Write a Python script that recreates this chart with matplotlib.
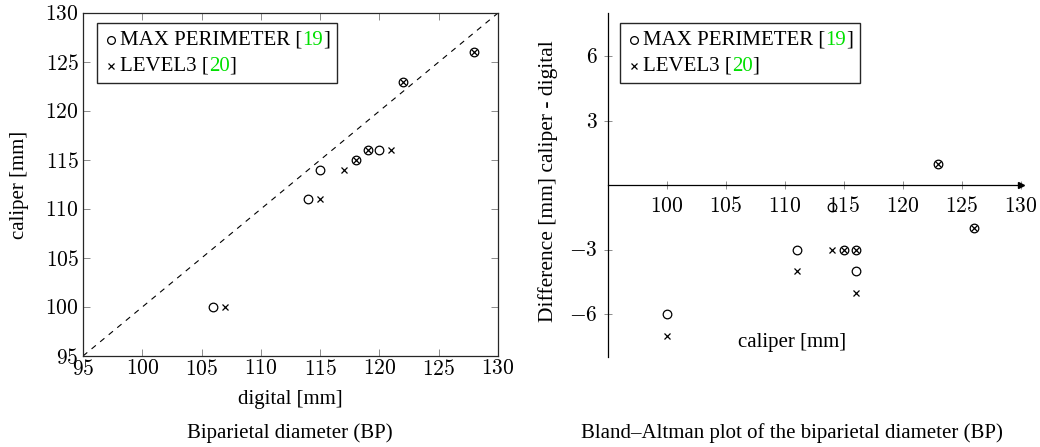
"""Biparietal diameter: caliper vs digital, plus Bland-Altman plot."""
import matplotlib
matplotlib.use("Agg")
import matplotlib.pyplot as plt
import numpy as np
from matplotlib.lines import Line2D
from matplotlib.offsetbox import (AnchoredOffsetbox, DrawingArea, HPacker,
                                  TextArea, VPacker)

plt.rcParams["font.family"] = ["Liberation Serif", "DejaVu Serif"]
plt.rcParams["mathtext.fontset"] = "cm"

# ---- data ----
MAXP_DIGITAL = [106, 114, 115, 118, 119, 120, 122, 128]
MAXP_CALIPER = [100, 111, 114, 115, 116, 116, 123, 126]
LVL3_DIGITAL = [107, 115, 117, 118, 119, 121, 122, 128]
LVL3_CALIPER = [100, 111, 114, 115, 116, 116, 123, 126]

SERIES = ["MAX PERIMETER", "LEVEL3"]
REFS = ["19", "20"]
MARKERS = ["o", "x"]

X_TICKS = [95, 100, 105, 110, 115, 120, 125, 130]
BA_X_TICKS = [100, 105, 110, 115, 120, 125, 130]
BA_Y_TICKS = [-6, -3, 3, 6]

FS = 15
TICK_FS = 15.5
GREEN = "#00e000"
TICK_COLOR = "0.55"


def math_fmt(v, pos=None):
    return f"${v:g}$"


def draw_points(ax, x, y, marker):
    if marker == "o":
        ax.plot(x, y, ls="none", marker="o", ms=6.2, mfc="none", mec="k",
                mew=0.9, clip_on=False, zorder=3)
    else:
        ax.plot(x, y, ls="none", marker="x", ms=4.6, color="k", mew=0.9,
                clip_on=False, zorder=3)


def make_legend(fig, x, y):
    rows = []
    for name, ref, m in zip(SERIES, REFS, MARKERS):
        da = DrawingArea(9, 10, 0, 0)
        if m == "o":
            da.add_artist(Line2D([4.5], [5], marker="o", ms=5.6, mfc="none",
                                 mec="k", mew=0.9, ls="none"))
        else:
            da.add_artist(Line2D([4.5], [5], marker="x", ms=4.4, color="k",
                                 mew=0.9, ls="none"))
        tp = dict(fontsize=FS)
        t1 = TextArea(f"{name} [", textprops=tp)
        t2 = TextArea(ref, textprops=dict(color=GREEN, **tp))
        t3 = TextArea("]", textprops=tp)
        txt = HPacker(children=[t1, t2, t3], sep=0, pad=0, align="baseline")
        rows.append(HPacker(children=[da, txt], sep=2, pad=0, align="center"))
    box = VPacker(children=rows, sep=5, pad=0, align="left")
    anc = AnchoredOffsetbox(loc="upper left", child=box, pad=0.55,
                            borderpad=0, frameon=True,
                            bbox_to_anchor=(x, y),
                            bbox_transform=fig.transFigure)
    anc.patch.set_boxstyle("square", pad=0)
    anc.patch.set_linewidth(1.0)
    anc.patch.set_edgecolor("0.15")
    return anc


fig = plt.figure(figsize=(10.4, 4.47), dpi=100)
W, H = 1040, 447

# ============ left: caliper vs digital ============
ax1 = fig.add_axes([83 / W, 1 - 356 / H, (498 - 83) / W, (356 - 13) / H])
draw_points(ax1, MAXP_DIGITAL, MAXP_CALIPER, "o")
draw_points(ax1, LVL3_DIGITAL, LVL3_CALIPER, "x")
ax1.axline((95, 95), slope=1, color="k", lw=0.8, ls=(0, (5, 5)))
ax1.set_xlim(95, 130)
ax1.set_ylim(95, 130)
ax1.set_xticks(X_TICKS)
ax1.set_yticks(X_TICKS)
ax1.xaxis.set_major_formatter(math_fmt)
ax1.yaxis.set_major_formatter(math_fmt)
ax1.tick_params(direction="in", length=5, width=0.7, color=TICK_COLOR,
                top=True, right=True, labelsize=TICK_FS, pad=3)
for sp in ax1.spines.values():
    sp.set_linewidth(0.9)
    sp.set_color("0.15")
ax1.set_xlabel("digital [mm]", fontsize=FS)
ax1.xaxis.set_label_coords(0.5, -0.128)
ax1.xaxis.label.set_va("center")
ax1.set_ylabel("caliper [mm]", fontsize=FS)
ax1.yaxis.set_label_coords(-0.152, 0.5)
ax1.yaxis.label.set_va("center")
ax1.add_artist(make_legend(fig, 97 / W, 1 - 23 / H))

# ============ right: Bland-Altman ============
ba_x_m = np.array(MAXP_CALIPER)
ba_y_m = np.array(MAXP_CALIPER) - np.array(MAXP_DIGITAL)
ba_x_l = np.array(LVL3_CALIPER)
ba_y_l = np.array(LVL3_CALIPER) - np.array(LVL3_DIGITAL)

ax2 = fig.add_axes([607.5 / W, 1 - 357 / H, (1021 - 607.5) / W, (357 - 13) / H])
draw_points(ax2, ba_x_m, ba_y_m, "o")
draw_points(ax2, ba_x_l, ba_y_l, "x")
ax2.set_xlim(95, 130)
ax2.set_ylim(-8, 8)
ax2.spines["top"].set_visible(False)
ax2.spines["right"].set_visible(False)
ax2.spines["bottom"].set_position(("data", 0))
for sp in ("left", "bottom"):
    ax2.spines[sp].set_linewidth(0.9)
ax2.set_xticks(BA_X_TICKS)
ax2.set_yticks(BA_Y_TICKS)
ax2.xaxis.set_major_formatter(math_fmt)
ax2.yaxis.set_major_formatter(math_fmt)
ax2.tick_params(direction="inout", length=6, width=0.7, color=TICK_COLOR,
                labelsize=TICK_FS)
ax2.tick_params(axis="x", pad=6)
ax2.tick_params(axis="y", pad=4)
# axis arrows
ax2.plot(1, 0, marker=">", ms=4, color="k", transform=ax2.get_yaxis_transform(),
         clip_on=False)
ax2.plot(0, 1, marker="^", ms=4, color="k", transform=ax2.get_xaxis_transform(),
         clip_on=False)
ax2.set_xlabel("caliper [mm]", fontsize=FS)
ax2.xaxis.set_label_coords(0.446, 0.041)
ax2.xaxis.label.set_va("center")
ax2.set_ylabel("Difference [mm] caliper - digital", fontsize=FS + 0.5)
ax2.yaxis.set_label_coords(-0.144, 0.51)
ax2.yaxis.label.set_va("center")
ax2.add_artist(make_legend(fig, 620 / W, 1 - 23 / H))

# captions
fig.text(290 / W, 1 - 433 / H, "Biparietal diameter (BP)", fontsize=FS,
         ha="center", va="center")
fig.text(792 / W, 1 - 433 / H, "Bland\u2013Altman plot of the biparietal diameter (BP)",
         fontsize=FS, ha="center", va="center")

fig.savefig("out.png", dpi=100)
